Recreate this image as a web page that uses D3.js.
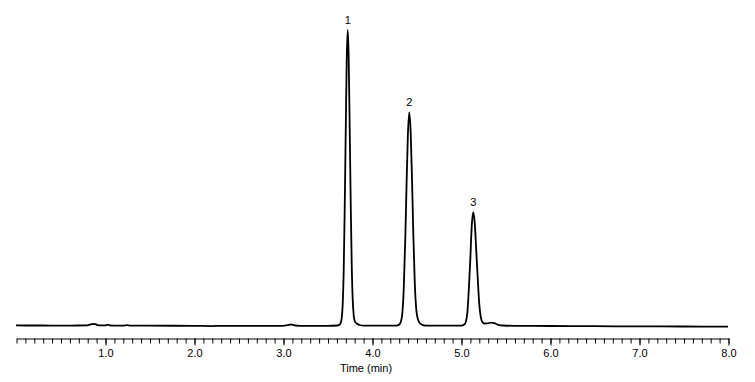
<!DOCTYPE html>
<html lang="en">
	<head>
		<meta charset="utf-8">
		<title>Chromatogram</title>
		<script type="text/javascript" src="https://cdn.jsdelivr.net/npm/d3@7"></script>
		<style type="text/css">
			body { margin: 0; background: #fff; }
			text { font-family: "Liberation Sans", Arial, sans-serif; }
		</style>
	</head>
	<body>
		<script type="text/javascript">

			//Width and height
			var w = 755;
			var h = 382;

			// Trace samples (time in min, signal in arbitrary units)
			var baseTimes  = [0.00, 0.10, 0.30, 0.50, 0.70, 0.80, 0.85, 0.88, 0.91, 0.95, 1.00, 1.03, 1.06, 1.20, 1.25, 1.28, 1.50, 2.00, 2.20, 2.30, 2.60, 3.00, 3.05, 3.09, 3.13, 3.20, 3.50];
			var baseSignal = [0.6, 0.5, 0.5, 0.4, 0.5, 0.7, 1.8, 2.2, 1.2, 0.6, 0.6, 1.3, 0.5, 0.4, 0.8, 0.3, 0.3, 0.2, -0.1, 0.2, 0.1, 0.1, 0.8, 1.5, 0.6, 0.1, 0.1];

			var peak1Times  = [3.615, 3.637, 3.648, 3.660, 3.671, 3.682, 3.693, 3.705, 3.716, 3.727, 3.738, 3.749, 3.761, 3.772, 3.783, 3.794, 3.806, 3.828, 3.862, 3.907];
			var peak1Signal = [0.5, 1.5, 3, 8, 22, 55, 115, 195, 265, 295, 268, 200, 122, 62, 27, 11, 5, 2.5, 1, 0.3];

			var peak2Times  = [4.273, 4.307, 4.323, 4.340, 4.357, 4.374, 4.388, 4.403, 4.419, 4.435, 4.450, 4.464, 4.481, 4.498, 4.515, 4.531, 4.565, 4.610];
			var peak2Signal = [0.3, 1.5, 4, 12, 38, 87, 140, 190, 213, 192, 145, 92, 42, 16, 7, 3.5, 1.2, 0.4];

			var peak3Times  = [5.003, 5.037, 5.054, 5.071, 5.087, 5.104, 5.121, 5.138, 5.155, 5.172, 5.189, 5.205, 5.222, 5.239, 5.262, 5.295, 5.340, 5.374, 5.419, 5.475];
			var peak3Signal = [0.3, 1.5, 4, 13, 35, 65, 100, 113.5, 102, 74, 46, 22, 9, 4, 2.5, 2.6, 3.4, 2.8, 1.2, 0.5];

			var tailTimes  = [5.60, 6.00, 6.50, 7.00, 7.50, 8.00];
			var tailSignal = [0.2, 0.0, -0.2, -0.4, -0.5, -0.6];

			// Peak labels
			var peakLabels = ["1", "2", "3"];
			var peakTimes  = [3.727, 4.419, 5.138];
			var peakHeights = [295, 213, 113.5];

			// Axis ticks
			var majorTicks = [1, 2, 3, 4, 5, 6, 7, 8];
			var minorTicks = d3.range(0, 81).map(function(i) { return i / 10; });
			var xTitle = "Time (min)";

			// join the pieces into one trace
			var times = baseTimes.concat(peak1Times, peak2Times, peak3Times, tailTimes);
			var signal = baseSignal.concat(peak1Signal, peak2Signal, peak3Signal, tailSignal);
			var trace = times.map(function(t, i) { return [t, signal[i]]; });

			//Scales
			var x = d3.scaleLinear().domain([0, 8]).range([16, 728]);
			var y = d3.scaleLinear().domain([0, 295]).range([326, 30]);

			//Create SVG element
			var svg = d3.select("body")
						.append("svg")
						.attr("width", w)
						.attr("height", h);

			// minor ticks
			var minorAxis = d3.axisBottom(x)
				.tickValues(minorTicks)
				.tickFormat("")
				.tickSize(5)
				.tickSizeOuter(0);

			svg.append("g")
				.attr("transform", "translate(0.5,338.5)")
				.call(minorAxis)
				.call(function(g) { g.selectAll("line").attr("stroke", "#000"); g.select(".domain").attr("stroke", "#000"); });

			// major ticks with labels
			var majorAxis = d3.axisBottom(x)
				.tickValues(majorTicks)
				.tickFormat(d3.format(".1f"))
				.tickSize(7)
				.tickPadding(4)
				.tickSizeOuter(0);

			svg.append("g")
				.attr("transform", "translate(0.5,338.5)")
				.call(majorAxis)
				.call(function(g) {
					g.select(".domain").remove();
					g.selectAll("line").attr("stroke", "#000");
					g.selectAll("text")
						.attr("fill", "#000")
						.style("font-size", "11px")
						.style("font-family", "'Liberation Sans', Arial, sans-serif");
				});

			svg.append("text")
				.attr("x", 366)
				.attr("y", 372)
				.attr("text-anchor", "middle")
				.style("font-size", "11px")
				.text(xTitle);

			// trace
			var line = d3.line()
				.x(function(d) { return x(d[0]); })
				.y(function(d) { return y(d[1]); })
				.curve(d3.curveMonotoneX);

			svg.append("path")
				.datum(trace)
				.attr("d", line)
				.attr("fill", "none")
				.attr("stroke", "#000")
				.attr("stroke-width", 1.8)
				.attr("stroke-linejoin", "round");

			// peak labels
			svg.selectAll("text.peak")
				.data(peakLabels)
				.enter()
				.append("text")
				.attr("class", "peak")
				.attr("x", function(d, i) { return x(peakTimes[i]); })
				.attr("y", function(d, i) { return y(peakHeights[i]) - 6; })
				.attr("text-anchor", "middle")
				.style("font-size", "11px")
				.text(function(d) { return d; });

		</script>
	</body>
</html>
